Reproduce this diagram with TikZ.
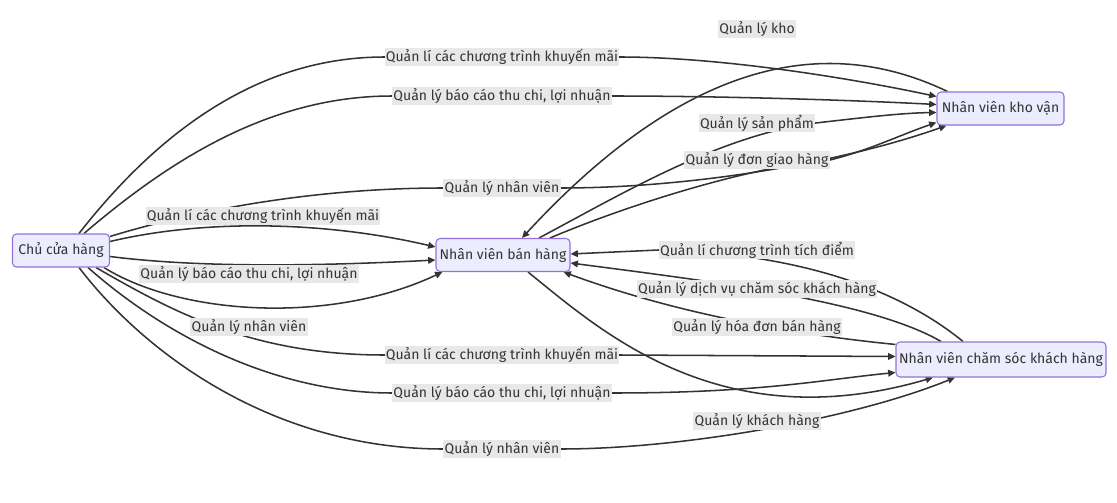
\documentclass[tikz,border=0pt]{standalone}
\usepackage{fontspec}
\setmainfont{Fira Sans}
\usetikzlibrary{arrows.meta,backgrounds,calc}
\definecolor{nodefill}{HTML}{ECECFF}
\definecolor{nodeline}{HTML}{9370DB}
\definecolor{edgecol}{HTML}{333333}
\definecolor{labelbg}{HTML}{E8E8E8}
\begin{document}
\begin{tikzpicture}[x=0.75pt,y=-0.75pt,
  box/.style={draw=nodeline, fill=nodefill, rounded corners=3pt, line width=0.8pt,
    text=edgecol, font=\fontsize{10.5}{12}\selectfont, inner sep=0pt, minimum height=24.75pt},
  lab/.style={fill=labelbg, text=edgecol, font=\fontsize{10.5}{12}\selectfont, inner sep=1pt},
  edge/.style={draw=edgecol, line width=1.15pt, -{Triangle[length=5.5pt,width=5pt]}}
]
\useasboundingbox (0,0) rectangle (1117,503);
% main nodes
\node[box, minimum width=72.75pt] (A) at (61,250.5) {Chủ cửa hàng};
\node[box, minimum width=100.5pt] (B) at (503,255) {Nhân viên bán hàng};
\node[box, minimum width=95.25pt] (C) at (1000.5,108.5) {Nhân viên kho vận};
\node[box, minimum width=157.5pt, minimum height=26.25pt] (D) at (1001,359.5) {Nhân viên chăm sóc khách hàng};
% labels
\node[lab] (L1)  at (757,29)  {Quản lý kho};
\node[lab] (L2)  at (502,57)  {Quản lí các chương trình khuyến mãi};
\node[lab] (L3)  at (502,96)  {Quản lý báo cáo thu chi, lợi nhuận};
\node[lab] (L4)  at (757,123) {Quản lý sản phẩm};
\node[lab] (L5)  at (757,160) {Quản lý đơn giao hàng};
\node[lab] (L6)  at (502,188) {Quản lý nhân viên};
\node[lab] (L7)  at (263,216) {Quản lí các chương trình khuyến mãi};
\node[lab] (L8)  at (757,250) {Quản lí chương trình tích điểm};
\node[lab] (L9)  at (249,274) {Quản lý báo cáo thu chi, lợi nhuận};
\node[lab] (L10) at (757,289) {Quản lý dịch vụ chăm sóc khách hàng};
\node[lab] (L11) at (249,327) {Quản lý nhân viên};
\node[lab] (L12) at (757,327) {Quản lý hóa đơn bán hàng};
\node[lab] (L13) at (502,355) {Quản lí các chương trình khuyến mãi};
\node[lab] (L14) at (502,393) {Quản lý báo cáo thu chi, lợi nhuận};
\node[lab] (L15) at (757,421) {Quản lý khách hàng};
\node[lab] (L16) at (502,449) {Quản lý nhân viên};
\begin{pgfonlayer}{background}
% A -> C
\draw[edge] ($(A.north)+(18,0)$) .. controls (160,130) and (260,57) .. (L2.west) -- (L2.east)
   .. controls (720,57) and (850,78) .. ($(C.west)+(0,-12)$);
\draw[edge] ($(A.north)+(23,0)$) .. controls (170,160) and (270,96) .. (L3.west) -- (L3.east)
   .. controls (720,96) and (850,100) .. ($(C.west)+(0,-4)$);
\draw[edge] ($(A.north east)+(0,3)$) .. controls (180,215) and (300,188) .. (L6.west) -- (L6.east)
   .. controls (700,188) and (850,160) .. ($(C.south west)+(10,0)$);
% B -> C
\draw[edge] ($(B.north)+(36,0)$) .. controls (620,195) and (720,135) .. (L4.east)
   .. controls (860,118) and (900,113) .. ($(C.west)+(0,4)$);
\draw[edge] ($(B.north)+(47,0)$) .. controls (640,200) and (760,165) .. (L5.east)
   .. controls (870,150) and (900,135) .. ($(C.west)+(0,14)$);
% C -> B
\draw[edge] ($(C.north west)+(11,0)$) .. controls (840,40) and (700,45) .. ($(B.north)+(19,0)$);
% A -> B
\draw[edge] ($(A.east)+(0,-9)$) .. controls (200,220) and (320,220) .. ($(B.west)+(0,-8)$);
\draw[edge] ($(A.east)+(0,6)$) .. controls (200,268) and (320,266) .. ($(B.west)+(0,5)$);
\draw[edge] ($(A.south)+(43,0)$) .. controls (180,315) and (330,325) .. ($(B.south west)+(7,0)$);
% A -> D
\draw[edge] ($(A.south)+(35,0)$) .. controls (170,310) and (250,355) .. (L13.west) -- (L13.east)
   -- ($(D.west)+(0,-3)$);
\draw[edge] ($(A.south)+(27,0)$) .. controls (170,340) and (280,393) .. (L14.west) -- (L14.east)
   .. controls (760,393) and (820,380) .. ($(D.west)+(0,13)$);
\draw[edge] ($(A.south)+(18,0)$) .. controls (150,360) and (280,449) .. (L16.west) -- (L16.east)
   .. controls (680,449) and (850,420) .. ($(D.south)+(-46,0)$);
% B -> D
\draw[edge] ($(B.south)+(25,0)$) .. controls (600,330) and (720,440) .. ($(D.south)+(-68,0)$);
% D -> B
\draw[edge] ($(D.north)+(-38,0)$) .. controls (900,290) and (800,253) .. (L8.west) -- ($(B.east)+(0,-1)$);
\draw[edge] ($(D.north)+(-60,0)$) .. controls (870,300) and (700,280) .. ($(B.east)+(0,8)$);
\draw[edge] ($(D.north west)+(0,3)$) .. controls (800,335) and (680,315) .. ($(B.south east)+(-7,0)$);
\end{pgfonlayer}
\end{tikzpicture}
\end{document}
